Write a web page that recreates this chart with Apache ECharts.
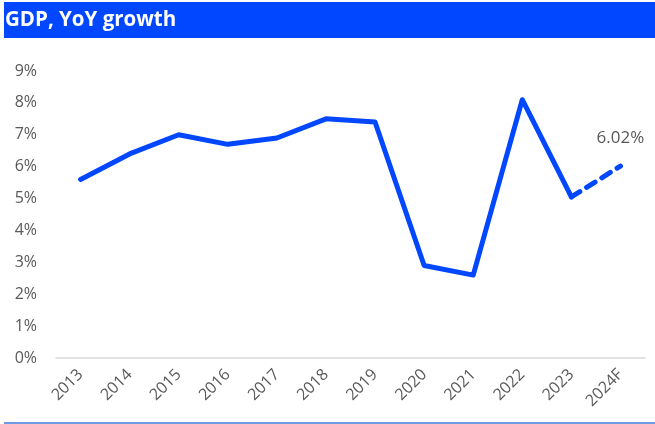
<!DOCTYPE html>
<html><head><meta charset="utf-8">
<script src="https://cdn.jsdelivr.net/npm/echarts@6/dist/echarts.min.js"></script>
<style>html,body{margin:0;padding:0;background:#fff}#c{width:655px;height:424px}</style>
</head><body><div id="c"></div>
<script>
const categories = ['2013','2014','2015','2016','2017','2018','2019','2020','2021','2022','2023','2024F'];
const actual = [5.6, 6.4, 7.0, 6.7, 6.9, 7.5, 7.4, 2.9, 2.6, 8.1, 5.05, null];
const forecast = [null, null, null, null, null, null, null, null, null, null, 5.05, 6.02];
const yTicks = [0,1,2,3,4,5,6,7,8,9];
const title = 'GDP, YoY growth';
const blue = '#0047FF';
const font = '"Open Sans", sans-serif';
const chart = echarts.init(document.getElementById('c'));
chart.setOption({
  animation: false,
  graphic: [
    {type:'rect', shape:{x:4,y:2,width:651,height:36}, style:{fill:blue}},
    {type:'text', left:5, top:10, style:{text:title, fill:'#fff', font:'bold 20.5px "Open Sans", sans-serif'}},
    {type:'rect', shape:{x:4,y:422,width:651,height:2}, style:{fill:'#6f9be3'}}
  ],
  grid: {left:56, width:589, top:71, height:287},
  xAxis: {
    type:'category', data: categories, boundaryGap:true,
    axisLine:{lineStyle:{color:'#d9d9d9', width:1.5}},
    axisTick:{show:false},
    axisLabel:{rotate:45, color:'#595959', fontSize:16, fontFamily:font, margin:14}
  },
  yAxis: {
    type:'value', min:yTicks[0], max:yTicks[yTicks.length-1], interval:1,
    splitLine:{show:false}, axisLine:{show:false}, axisTick:{show:false},
    axisLabel:{formatter: v => v + '%', color:'#595959', fontSize:16, fontFamily:font, margin:19}
  },
  series: [
    {type:'line', data: actual, symbol:'none', lineStyle:{color:blue, width:5, cap:'round', join:'round'}},
    {type:'line', data: forecast, symbol:'circle', symbolSize:0.1, itemStyle:{color:blue},
     lineStyle:{color:blue, width:5, type:[10,8], cap:'round'},
     label:{show:true, position:'top', distance:19, color:'#595959', fontSize:17, fontFamily:font,
       formatter: p => (p.dataIndex === categories.length-1 ? p.value.toFixed(2) + '%' : '')}}
  ]
});
</script></body></html>
